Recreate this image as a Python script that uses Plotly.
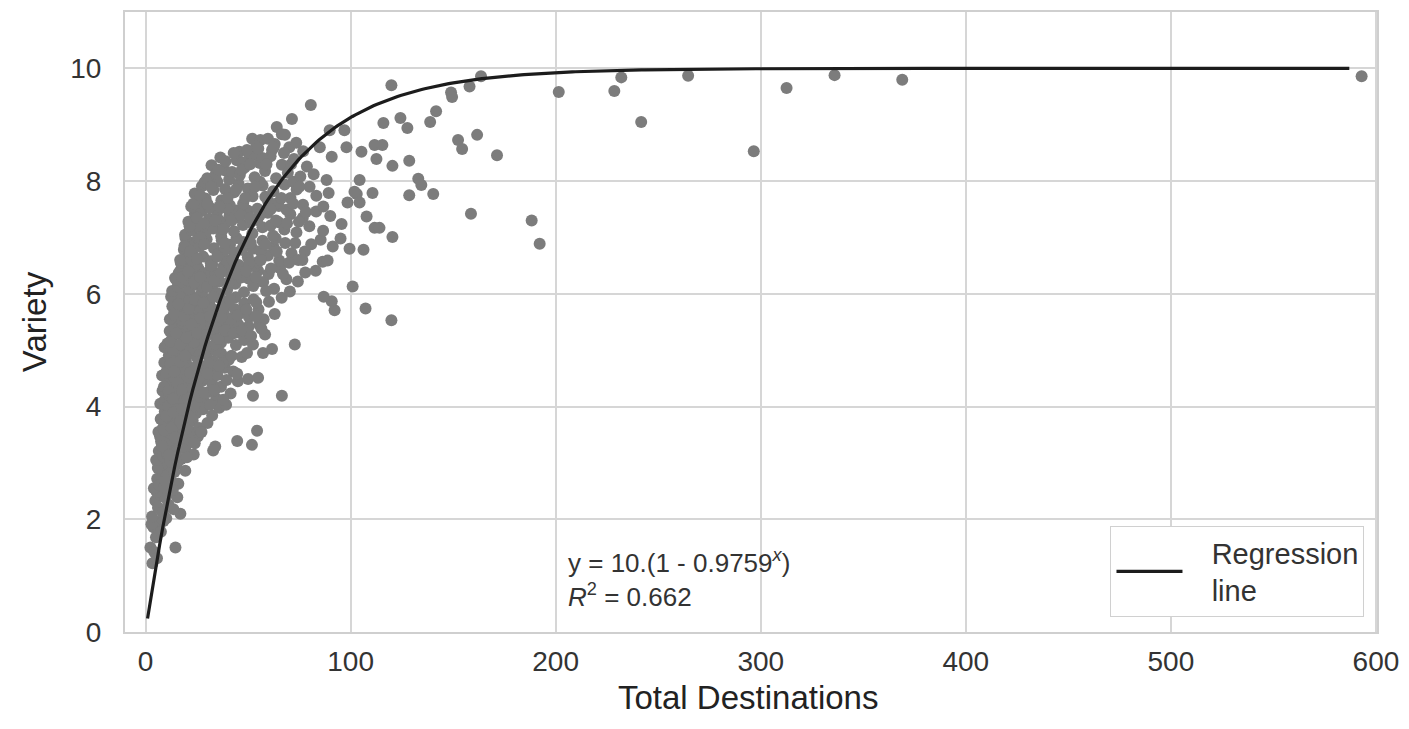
import numpy as np
import plotly.graph_objects as go

# Observed stations: total destinations reached vs. variety index
total_destinations = [
    # variety 1.1 - 2.0
    2.4, 3.4, 3.9, 14.6, 5.1, 6.2, 4.3, 7.5, 2.9, 8.8, 5.6,
    # 2.0 - 2.5
    3.2, 4.8, 6.1, 7.3, 8.4, 9.6, 11.2, 5.4, 12.5, 17.0, 15.5, 10.1, 13.6,
    # 2.5 - 3.0
    4.1, 5.7, 6.8, 7.9, 9.0, 10.4, 11.6, 12.9, 8.2, 14.1, 16.0, 19.4, 6.0, 13.3, 9.7, 15.2,
    # 3.0 - 3.5
    5.2, 6.5, 7.6, 8.7, 9.9, 11.0, 12.3, 13.5, 14.8, 16.1, 17.4, 18.6, 19.4, 21.0, 23.5,
    33.0, 34.0, 44.7, 51.9, 10.6, 15.7, 25.5, 7.1, 20.2, 12.0,
    # 3.5 - 4.0
    6.3, 7.4, 8.5, 9.4, 10.8, 11.9, 13.0, 14.2, 15.4, 16.6, 17.9, 19.1, 20.3, 21.7, 23.0,
    24.6, 26.1, 28.0, 30.2, 32.5, 54.4, 36.0, 12.4, 18.2, 22.4, 27.3, 9.0,
    # 4.0 - 4.5
    7.2, 8.3, 9.5, 10.6, 11.7, 12.8, 13.9, 15.1, 16.3, 17.5, 18.8, 20.0, 21.4, 22.9, 24.2,
    25.8, 27.4, 29.0, 30.7, 32.4, 34.5, 36.8, 39.3, 41.5, 52.4, 66.5, 45.0, 50.0, 54.9,
    14.5, 19.6, 23.7, 26.6, 31.5, 11.1, 37.9,
    # 4.5 - 5.0
    8.1, 9.2, 10.3, 11.4, 12.6, 13.7, 14.9, 16.0, 17.2, 18.4, 19.7, 21.0, 22.3, 23.8, 25.1,
    26.7, 28.3, 29.9, 31.6, 33.2, 35.0, 36.9, 38.7, 40.6, 42.8, 44.7, 46.9, 49.5, 57.3,
    15.4, 20.5, 24.6, 27.5, 30.8, 34.1, 37.5, 12.0, 18.0,
    # 5.0 - 5.5
    9.3, 10.7, 11.8, 12.9, 14.0, 15.2, 16.5, 17.7, 19.0, 20.3, 21.6, 22.9, 24.3, 25.7, 27.2,
    28.7, 30.2, 31.8, 33.4, 35.1, 36.8, 38.5, 40.3, 42.2, 44.1, 46.0, 48.1, 50.3, 52.4,
    58.3, 61.7, 72.8, 55.5, 13.5, 18.3, 23.6, 29.4, 34.2, 39.6, 45.3, 26.4,
    # 5.5 - 6.0
    11.9, 13.1, 14.3, 15.6, 16.9, 18.1, 19.4, 20.8, 22.2, 23.6, 25.0, 26.5, 28.0, 29.6, 31.2,
    32.9, 34.6, 36.4, 38.2, 40.1, 42.0, 44.0, 46.1, 48.2, 50.4, 52.7, 55.1, 57.6, 60.2,
    63.0, 66.4, 92.2, 107.3, 90.8, 86.9, 119.9, 17.5, 24.3, 30.4, 37.0, 43.5, 53.6, 21.5, 12.5,
    # 6.0 - 6.5
    13.0, 14.4, 15.7, 17.1, 18.5, 19.9, 21.3, 22.8, 24.3, 25.8, 27.4, 29.0, 30.7, 32.4, 34.2,
    36.0, 37.9, 39.8, 41.8, 43.8, 45.9, 48.0, 50.2, 52.5, 54.9, 57.4, 60.0, 62.7, 65.6,
    68.7, 70.4, 74.3, 77.9, 101.0, 83.0, 16.2, 23.5, 28.2, 35.2, 40.9, 46.6, 53.3, 58.8, 20.5,
    # 6.5 - 7.0
    17.2, 18.7, 20.2, 21.7, 23.2, 24.8, 26.4, 28.1, 29.8, 31.6, 33.4, 35.3, 37.2, 39.2, 41.2,
    43.3, 45.4, 47.6, 49.9, 52.2, 54.6, 57.1, 59.7, 62.4, 65.2, 68.1, 71.2, 74.5, 77.7,
    76.5, 86.4, 88.8, 85.4, 91.3, 95.1, 99.5, 106.3, 80.8, 19.5, 25.6, 32.5, 38.3, 44.4,
    50.5, 56.0, 63.5, 22.5,
    # 7.0 - 7.5
    19.3, 20.9, 22.5, 24.1, 25.8, 27.5, 29.3, 31.1, 33.0, 34.9, 36.9, 38.9, 41.0, 43.1, 45.3,
    47.5, 49.8, 52.1, 54.5, 57.0, 59.6, 62.2, 64.9, 67.7, 70.6, 73.6, 76.7, 79.9, 83.2,
    86.6, 90.1, 95.6, 111.7, 114.1, 120.4, 107.8, 26.7, 35.8, 44.2, 51.0, 61.0, 68.8, 74.8,
    # 7.5 - 8.0
    22.3, 24.0, 25.7, 27.5, 29.3, 31.2, 33.1, 35.0, 37.0, 38.8, 41.1, 43.2, 45.4, 47.6, 49.9,
    52.2, 54.6, 57.1, 59.7, 62.3, 65.0, 67.8, 70.7, 73.7, 76.8, 80.0, 83.3, 86.7, 89.3,
    103.0, 98.5, 104.4, 101.9, 110.7, 128.6, 134.5, 140.3, 28.8, 39.5, 55.8, 63.6, 72.0,
    # 8.0 - 8.5
    30.1, 32.2, 34.3, 36.5, 38.6, 40.8, 42.2, 44.5, 46.0, 48.3, 50.7, 52.4, 53.2, 55.7, 58.3,
    61.0, 63.7, 66.5, 69.4, 72.4, 75.5, 78.7, 82.0, 88.3, 104.4, 112.6, 120.4, 128.6, 133.0,
    57.0, 47.4,
    # 8.5 - 9.0
    45.8, 49.5, 52.0, 56.0, 59.7, 61.7, 64.0, 66.5, 68.0, 70.1, 73.5, 76.9, 85.0, 90.8, 89.8,
    97.0, 98.0, 105.3, 111.7, 115.5, 127.7, 152.4, 154.4, 161.7, 171.4, 54.0, 63.0,
    # upper and far-right stations
    71.4, 80.6, 119.9, 116.0, 124.3, 138.8, 141.7, 149.0, 149.5, 158.0, 163.6, 201.5, 228.6,
    232.0, 241.7, 264.6, 296.6, 312.6, 336.0, 369.0, 593.0, 158.7, 188.3, 192.2,
]

variety = [
    1.5, 1.22, 1.86, 1.5, 1.68, 1.95, 1.42, 1.78, 1.91, 1.97, 1.31,
    2.05, 2.33, 2.21, 2.44, 2.12, 2.38, 2.26, 2.49, 2.47, 2.1, 2.39, 2.02, 2.18,
    2.55, 2.72, 2.61, 2.88, 2.57, 2.79, 2.95, 2.66, 2.97, 2.84, 2.63, 2.86, 2.91, 2.52, 2.68, 2.98,
    3.05, 3.21, 3.38, 3.12, 3.45, 3.28, 3.02, 3.36, 3.19, 3.48, 3.07, 3.31, 3.25, 3.42, 3.15,
    3.22, 3.29, 3.39, 3.32, 3.16, 3.03, 3.47, 3.47, 3.1, 3.4,
    3.55, 3.78, 3.62, 3.91, 3.7, 3.53, 3.84, 3.66, 3.97, 3.58, 3.81, 3.69, 3.93, 3.56, 3.75,
    3.88, 3.62, 3.95, 3.71, 3.84, 3.57, 3.98, 3.99, 3.51, 3.99, 3.55, 3.76,
    4.05, 4.28, 4.12, 4.41, 4.19, 4.47, 4.03, 4.33, 4.16, 4.44, 4.08, 4.37, 4.22, 4.49, 4.11,
    4.3, 4.45, 4.07, 4.26, 4.42, 4.14, 4.35, 4.03, 4.23, 4.19, 4.19, 4.45, 4.49, 4.51,
    4.25, 4.48, 4.02, 4.18, 4.03, 4.0, 4.12,
    4.55, 4.78, 4.62, 4.91, 4.69, 4.53, 4.84, 4.66, 4.97, 4.58, 4.81, 4.7, 4.95, 4.6, 4.87,
    4.73, 4.51, 4.92, 4.65, 4.8, 4.56, 4.94, 4.69, 4.83, 4.62, 4.58, 4.88, 4.95, 4.95,
    4.99, 4.52, 4.99, 4.64, 4.77, 4.99, 4.77, 4.85, 4.74,
    5.05, 5.12, 5.34, 5.2, 5.47, 5.08, 5.29, 5.41, 5.15, 5.38, 5.03, 5.25, 5.49, 5.11, 5.33,
    5.19, 5.44, 5.06, 5.28, 5.4, 5.13, 5.36, 5.22, 5.47, 5.09, 5.31, 5.18, 5.42, 5.1,
    5.28, 5.02, 5.1, 5.45, 5.01, 5.48, 5.14, 5.02, 5.12, 5.49, 5.45, 5.4,
    5.55, 5.78, 5.62, 5.91, 5.69, 5.53, 5.84, 5.66, 5.97, 5.58, 5.81, 5.7, 5.95, 5.6, 5.87,
    5.73, 5.51, 5.92, 5.65, 5.8, 5.56, 5.94, 5.68, 5.83, 5.59, 5.9, 5.72, 5.55, 5.86,
    5.64, 5.93, 5.71, 5.74, 5.87, 5.95, 5.53, 5.99, 5.52, 5.76, 5.58, 5.73, 5.6, 5.88, 5.95,
    6.05, 6.28, 6.13, 6.42, 6.19, 6.47, 6.08, 6.33, 6.16, 6.45, 6.02, 6.25, 6.39, 6.11, 6.36,
    6.22, 6.48, 6.07, 6.31, 6.18, 6.44, 6.03, 6.27, 6.14, 6.41, 6.21, 6.35, 6.09, 6.46,
    6.26, 6.04, 6.22, 6.38, 6.13, 6.41, 6.37, 6.49, 6.12, 6.01, 6.45, 6.29, 6.49, 6.05, 6.24,
    6.55, 6.78, 6.62, 6.91, 6.69, 6.53, 6.84, 6.66, 6.97, 6.58, 6.81, 6.7, 6.95, 6.6, 6.87,
    6.73, 6.51, 6.92, 6.65, 6.8, 6.56, 6.94, 6.68, 6.83, 6.59, 6.9, 6.72, 6.6, 6.75,
    6.6, 6.57, 6.59, 6.96, 6.84, 6.98, 6.8, 6.78, 6.88, 6.99, 6.99, 6.52, 6.76, 6.99,
    6.54, 6.76, 6.98, 6.6,
    7.05, 7.28, 7.13, 7.42, 7.19, 7.47, 7.08, 7.33, 7.16, 7.45, 7.02, 7.25, 7.39, 7.11, 7.36,
    7.22, 7.48, 7.07, 7.31, 7.18, 7.44, 7.03, 7.27, 7.14, 7.41, 7.09, 7.35, 7.2, 7.46,
    7.12, 7.38, 7.24, 7.17, 7.17, 7.01, 7.37, 7.0, 7.31, 7.48, 7.26, 7.21, 7.49, 7.28,
    7.55, 7.78, 7.62, 7.91, 7.69, 7.53, 7.84, 7.99, 7.66, 7.86, 7.57, 7.8, 7.95, 7.6, 7.87,
    7.73, 7.51, 7.92, 7.65, 7.82, 7.56, 7.94, 7.7, 7.85, 7.58, 7.9, 7.74, 7.55, 7.79,
    7.77, 7.62, 7.62, 7.81, 7.79, 7.75, 7.93, 7.77, 7.98, 7.52, 7.99, 7.6, 7.99,
    8.05, 8.28, 8.13, 8.42, 8.19, 8.03, 8.16, 8.37, 8.11, 8.24, 8.47, 8.46, 8.07, 8.32, 8.18,
    8.44, 8.05, 8.29, 8.15, 8.39, 8.08, 8.26, 8.12, 8.02, 8.02, 8.39, 8.27, 8.36, 8.04,
    8.41, 8.33,
    8.52, 8.55, 8.75, 8.73, 8.75, 8.55, 8.96, 8.83, 8.82, 8.6, 8.68, 8.53, 8.6, 8.43, 8.9,
    8.9, 8.6, 8.52, 8.64, 8.64, 8.94, 8.73, 8.57, 8.82, 8.46, 8.62, 8.66,
    9.1, 9.35, 9.7, 9.03, 9.12, 9.05, 9.24, 9.57, 9.49, 9.68, 9.86, 9.58, 9.6,
    9.84, 9.05, 9.87, 8.53, 9.65, 9.88, 9.8, 9.86, 7.42, 7.3, 6.89,
]

# Additional stations inside the dense core of the cloud
core_destinations = [
    8.0, 9.2, 10.2, 11.5, 12.7, 13.8, 14.5, 16.9, 18.0, 19.8, 21.9, 24.0,
    9.0, 10.1, 11.3, 12.2, 13.3, 14.0, 15.8, 16.8, 17.9, 19.2, 20.6, 21.8, 23.1, 24.8,
    26.0, 28.6, 30.1, 33.6, 35.8, 39.5, 42.0,
    12.2, 13.9, 15.0, 16.0, 17.0, 18.8, 20.0, 21.1, 22.5, 24.0, 25.3, 26.9, 28.3, 29.9,
    31.5, 33.0, 35.6, 37.6, 39.0, 41.2, 43.0, 45.0, 47.2, 49.2, 51.5, 54.0, 56.5,
    15.0, 16.9, 18.0, 19.0, 20.8, 22.0, 23.8, 25.2, 26.8, 28.6, 30.0, 31.9, 33.5, 35.0,
    36.8, 38.6, 40.5, 42.5, 44.6, 46.8, 49.0, 51.3, 53.8, 56.2, 58.5, 61.2, 64.0, 67.0,
    70.0, 73.0,
    21.5, 23.3, 25.0, 26.6, 28.4, 30.2, 32.0, 34.0, 36.0, 37.9, 40.0, 42.0, 44.2, 46.4,
    48.6, 51.0, 53.4, 55.8, 58.4, 61.0, 63.6, 66.2, 69.0, 72.0, 75.0, 78.2,
    35.5, 39.0, 43.0, 47.0, 51.0, 55.0, 59.0, 62.5, 67.5, 71.0,
]

core_variety = [
    3.3, 3.58, 3.83, 3.14, 3.62, 3.9, 3.45, 3.74, 3.95, 3.6, 3.82, 3.35,
    4.35, 4.6, 4.27, 4.76, 4.14, 4.62, 4.42, 4.8, 4.3, 4.9, 4.14, 4.6, 4.33, 4.71,
    4.5, 4.24, 4.58, 4.29, 4.72, 4.47, 4.9,
    5.15, 5.65, 5.3, 5.82, 5.1, 5.6, 5.22, 5.73, 5.45, 5.9, 5.3, 5.57, 5.84, 5.27,
    5.6, 5.95, 5.2, 5.75, 5.35, 5.9, 5.3, 5.62, 5.35, 5.72, 5.25, 5.85, 5.38,
    6.25, 6.6, 6.3, 6.85, 6.4, 6.75, 6.2, 6.62, 6.3, 6.88, 6.12, 6.5, 6.23, 6.66,
    6.38, 6.9, 6.2, 6.6, 6.35, 6.78, 6.4, 6.9, 6.3, 6.6, 6.88, 6.45, 6.75, 6.35,
    6.55, 6.9,
    7.2, 7.6, 7.35, 7.75, 7.25, 7.6, 7.9, 7.3, 7.55, 7.15, 7.7, 7.3, 7.85, 7.4,
    7.7, 7.35, 7.9, 7.4, 7.72, 7.5, 7.3, 7.7, 7.25, 7.6, 7.9, 7.45,
    8.2, 8.35, 8.5, 8.2, 8.3, 8.58, 8.3, 8.6, 8.5, 8.3,
]

# Fitted saturation curve y = a * (1 - b^x)
fit_a = 10
fit_b = 0.9759
fit_r2 = 0.662
fit_x_range = [1, 587]

x_ticks = [0, 100, 200, 300, 400, 500, 600]
y_ticks = [0, 2, 4, 6, 8, 10]

all_x = total_destinations + core_destinations
all_y = variety + core_variety

fit_x = np.linspace(fit_x_range[0], fit_x_range[1], 400)
fit_y = fit_a * (1 - fit_b ** fit_x)

fig = go.Figure()
fig.add_trace(go.Scatter(
    x=all_x, y=all_y, mode="markers",
    marker=dict(size=12, color="#7c7c7c", line=dict(width=0)),
    showlegend=False, hoverinfo="x+y",
))
fig.add_trace(go.Scatter(
    x=fit_x, y=fit_y, mode="lines",
    line=dict(color="#1c1c1c", width=3.2),
    name="\u00a0\u00a0\u00a0Regression<br>\u00a0\u00a0\u00a0line",
))

fig.add_annotation(
    x=205, y=0.95, xref="x", yref="y", xanchor="left", yanchor="middle",
    text=f"y = {fit_a}.(1 - {fit_b}<sup><i>x</i></sup>)<br><i>R</i><sup>2</sup> = {fit_r2}",
    showarrow=False, align="left",
    font=dict(family="Liberation Sans, Arial, sans-serif", size=26, color="#333333"),
)

# X-axis title placed just beneath the tick labels
fig.add_annotation(
    x=0.498, y=-0.105, xref="paper", yref="paper", xanchor="center", yanchor="middle",
    text="Total Destinations", showarrow=False, borderpad=0,
    font=dict(family="Liberation Sans, Arial, sans-serif", size=33, color="#222222"),
)

axis_common = dict(
    showgrid=True, gridcolor="#d6d6d6", gridwidth=2,
    zeroline=True, zerolinecolor="#d6d6d6", zerolinewidth=2,
    showline=True, linecolor="#cfcfcf", linewidth=2, mirror=True,
    ticks="", tickfont=dict(family="Liberation Sans, Arial, sans-serif", size=28, color="#333333"),
)

fig.update_layout(
    width=1409, height=729,
    margin=dict(l=125, r=28, t=10, b=97),
    paper_bgcolor="white", plot_bgcolor="white",
    font=dict(family="Liberation Sans, Arial, sans-serif", color="#222222"),
    xaxis=dict(
        range=[-10, 600.5], tickvals=x_ticks, ticklabelstandoff=3,
        **axis_common,
    ),
    yaxis=dict(
        range=[0, 11], tickvals=y_ticks, ticklabelstandoff=16,
        title=dict(text="Variety", font=dict(size=33, color="#222222"), standoff=14),
        **axis_common,
    ),
    legend=dict(
        x=0.99, y=0.024, xanchor="right", yanchor="bottom",
        bordercolor="#d0d0d0", borderwidth=1, bgcolor="white",
        font=dict(size=29, color="#333333"), itemwidth=66,
    ),
)

fig.write_html("out.html")
